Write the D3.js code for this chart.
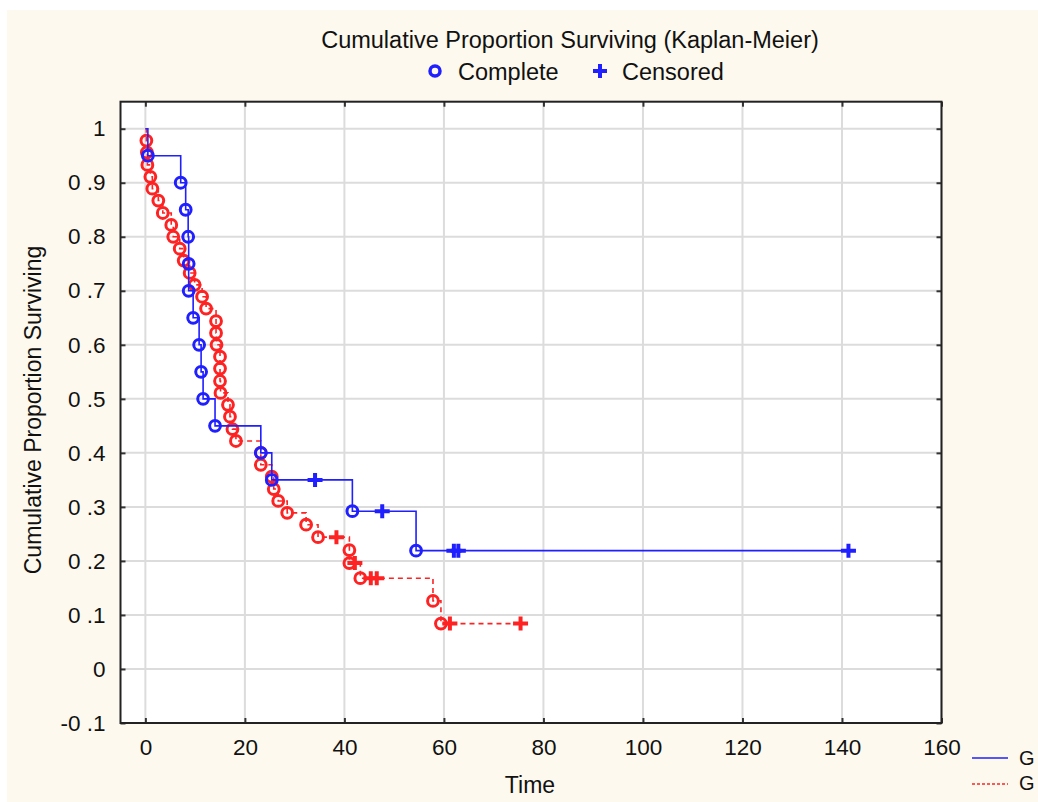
<!DOCTYPE html>
<html>
<head>
<meta charset="utf-8">
<script src="https://cdn.jsdelivr.net/npm/d3@7"></script>
<style>
  body { margin: 0; background: #ffffff; }
  text { font-family: "Liberation Sans", Arial, sans-serif; fill: #111; }
</style>
</head>
<body>
<div id="chart"></div>
<script>
// Group 1 (blue, solid): times, survival after each observation, 1 = complete / 0 = censored
var blueTime = [0.5, 7.1, 8.1, 8.6, 8.7, 8.7, 9.6, 10.8, 11.2, 11.6, 14.0, 23.2, 25.4, 34.1, 41.6, 47.6, 54.4, 62.0, 62.9, 141.3];
var blueSurv = [0.95, 0.90, 0.85, 0.80, 0.75, 0.70, 0.65, 0.60, 0.55, 0.50, 0.45, 0.40, 0.35, 0.35, 0.292, 0.292, 0.219, 0.219, 0.219, 0.219];
var blueStatus = [1, 1, 1, 1, 1, 1, 1, 1, 1, 1, 1, 1, 1, 0, 1, 0, 1, 0, 0, 0];

// Group 2 (red, dashed)
var redTime = [0.2, 0.3, 0.4, 1.0, 1.4, 2.6, 3.5, 5.2, 5.6, 6.9, 7.7, 8.9, 9.9, 11.4, 12.2,
  14.2, 14.2, 14.3, 15.0, 15.0, 15.0, 15.1, 16.6, 17.0, 17.5, 18.2, 23.2, 23.2, 25.4, 25.8,
  26.7, 28.5, 32.3, 34.7, 38.4, 41.0, 41.0, 42.1, 43.2, 45.3, 46.5, 57.8, 59.4, 61.2, 75.4];
var redSurv = [0.978, 0.956, 0.933, 0.911, 0.889, 0.867, 0.844, 0.822, 0.800, 0.778, 0.756, 0.733, 0.711, 0.689, 0.667,
  0.644, 0.622, 0.600, 0.578, 0.556, 0.533, 0.511, 0.489, 0.467, 0.444, 0.422, 0.400, 0.378, 0.356, 0.333,
  0.311, 0.289, 0.267, 0.244, 0.244, 0.220, 0.196, 0.196, 0.168, 0.168, 0.168, 0.126, 0.084, 0.084, 0.084];
var redStatus = [1, 1, 1, 1, 1, 1, 1, 1, 1, 1, 1, 1, 1, 1, 1,
  1, 1, 1, 1, 1, 1, 1, 1, 1, 1, 1, 1, 1, 1, 1,
  1, 1, 1, 1, 0, 1, 1, 0, 1, 0, 0, 1, 1, 0, 0];

// Axis ticks and labels
var xTicks = [0, 20, 40, 60, 80, 100, 120, 140, 160];
var yTicks = [-0.1, 0, 0.1, 0.2, 0.3, 0.4, 0.5, 0.6, 0.7, 0.8, 0.9, 1];
var yTickLabels = ["-0 .1", "0", "0 .1", "0 .2", "0 .3", "0 .4", "0 .5", "0 .6", "0 .7", "0 .8", "0 .9", "1"];

var width = 1038, height = 802;
var plot = {left: 120.5, top: 101.7, right: 941.5, bottom: 723};
var blue = "#1f1fff", red = "#ff2222";

var svg = d3.select("#chart").append("svg")
  .attr("width", width)
  .attr("height", height);

// page background
svg.append("rect")
  .attr("x", 7).attr("y", 10)
  .attr("width", width - 7).attr("height", height - 10)
  .style("fill", "#fdf9ee");

var x = d3.scaleLinear().domain([-5, 160]).range([plot.left, plot.right]);
var y = d3.scaleLinear().domain([-0.1, 1.05]).range([plot.bottom, plot.top]);

svg.append("rect")
  .attr("x", plot.left).attr("y", plot.top)
  .attr("width", plot.right - plot.left).attr("height", plot.bottom - plot.top)
  .style("fill", "#ffffff");

// gridlines
svg.append("g").selectAll("line")
  .data(xTicks).enter().append("line")
  .attr("x1", function(d) { return x(d); }).attr("x2", function(d) { return x(d); })
  .attr("y1", plot.top).attr("y2", plot.bottom)
  .style("stroke", "#dcdcdc").style("stroke-width", 2);
svg.append("g").selectAll("line")
  .data(yTicks).enter().append("line")
  .attr("y1", function(d) { return y(d); }).attr("y2", function(d) { return y(d); })
  .attr("x1", plot.left).attr("x2", plot.right)
  .style("stroke", "#dcdcdc").style("stroke-width", 2);

// axes with short inward ticks
function styleAxis(g) {
  g.select(".domain").remove();
  g.selectAll(".tick line").style("stroke", "#333").style("stroke-width", 2);
  g.selectAll(".tick text").style("font-family", "'Liberation Sans', Arial, sans-serif")
    .style("font-size", "22.5px").style("fill", "#111");
}

svg.append("g")
  .attr("transform", "translate(0," + plot.bottom + ")")
  .call(d3.axisBottom(x).tickValues(xTicks).tickSize(-5).tickPadding(16))
  .call(styleAxis);
svg.append("g")
  .attr("transform", "translate(" + plot.left + ",0)")
  .call(d3.axisLeft(y).tickValues(yTicks).tickSize(-5).tickPadding(15)
    .tickFormat(function(d, i) { return yTickLabels[i]; }))
  .call(styleAxis);
svg.append("g")
  .attr("transform", "translate(" + plot.right + ",0)")
  .call(d3.axisRight(y).tickValues(yTicks).tickSize(-5).tickFormat(""))
  .call(styleAxis);
svg.append("g")
  .attr("transform", "translate(0," + plot.top + ")")
  .call(d3.axisTop(x).tickValues(xTicks).tickSize(-5).tickFormat(""))
  .call(styleAxis);

// frame
svg.append("rect")
  .attr("x", plot.left).attr("y", plot.top)
  .attr("width", plot.right - plot.left).attr("height", plot.bottom - plot.top)
  .style("fill", "none").style("stroke", "#222").style("stroke-width", 2);

// Kaplan-Meier step lines and markers
var step = d3.line()
  .x(function(d) { return x(d.t); })
  .y(function(d) { return y(d.s); })
  .curve(d3.curveStepAfter);

function drawGroup(times, surv, status, color, dash) {
  var pts = [{t: 0, s: 1, c: -1}].concat(times.map(function(t, i) {
    return {t: t, s: surv[i], c: status[i]};
  }));
  var g = svg.append("g");
  g.append("path")
    .datum(pts)
    .attr("d", step)
    .style("fill", "none")
    .style("stroke", color)
    .style("stroke-width", 1.6)
    .style("stroke-dasharray", dash);
  g.selectAll("circle")
    .data(pts.filter(function(d) { return d.c === 1; }))
    .enter().append("circle")
    .attr("cx", function(d) { return x(d.t); })
    .attr("cy", function(d) { return y(d.s); })
    .attr("r", 5.4)
    .style("fill", "none")
    .style("stroke", color)
    .style("stroke-width", 3);
  g.selectAll("path.cens")
    .data(pts.filter(function(d) { return d.c === 0; }))
    .enter().append("path")
    .attr("class", "cens")
    .attr("d", "M-7.5,0H7.5M0,-7V7")
    .attr("transform", function(d) { return "translate(" + x(d.t) + "," + y(d.s) + ")"; })
    .style("stroke", color)
    .style("stroke-width", 4);
}

drawGroup(redTime, redSurv, redStatus, red, "5,4");
drawGroup(blueTime, blueSurv, blueStatus, blue, null);

// titles
svg.append("text")
  .attr("x", 570).attr("y", 48)
  .style("text-anchor", "middle").style("font-size", "23.5px")
  .text("Cumulative Proportion Surviving (Kaplan-Meier)");

svg.append("circle")
  .attr("cx", 435).attr("cy", 71).attr("r", 5)
  .style("fill", "none").style("stroke", blue).style("stroke-width", 3.5);
svg.append("text")
  .attr("x", 458).attr("y", 80).style("font-size", "23.5px")
  .text("Complete");
svg.append("path")
  .attr("d", "M-7,0H7M0,-7V7")
  .attr("transform", "translate(600,71)")
  .style("stroke", blue).style("stroke-width", 4);
svg.append("text")
  .attr("x", 622).attr("y", 80).style("font-size", "23.5px")
  .text("Censored");

svg.append("text")
  .attr("x", 530).attr("y", 793)
  .style("text-anchor", "middle").style("font-size", "23px")
  .text("Time");

svg.append("text")
  .attr("transform", "translate(41,410) rotate(-90)")
  .style("text-anchor", "middle").style("font-size", "23px")
  .text("Cumulative Proportion Surviving");

// group legend, bottom right (cut off at the window edge)
svg.append("line")
  .attr("x1", 972).attr("x2", 1008).attr("y1", 758).attr("y2", 758)
  .style("stroke", blue).style("stroke-width", 1.6);
svg.append("text")
  .attr("x", 1019).attr("y", 765).style("font-size", "20px")
  .text("G");
svg.append("line")
  .attr("x1", 972).attr("x2", 1008).attr("y1", 784).attr("y2", 784)
  .style("stroke", red).style("stroke-width", 1.6).style("stroke-dasharray", "3,2");
svg.append("text")
  .attr("x", 1019).attr("y", 790).style("font-size", "20px")
  .text("G");
</script>
</body>
</html>
